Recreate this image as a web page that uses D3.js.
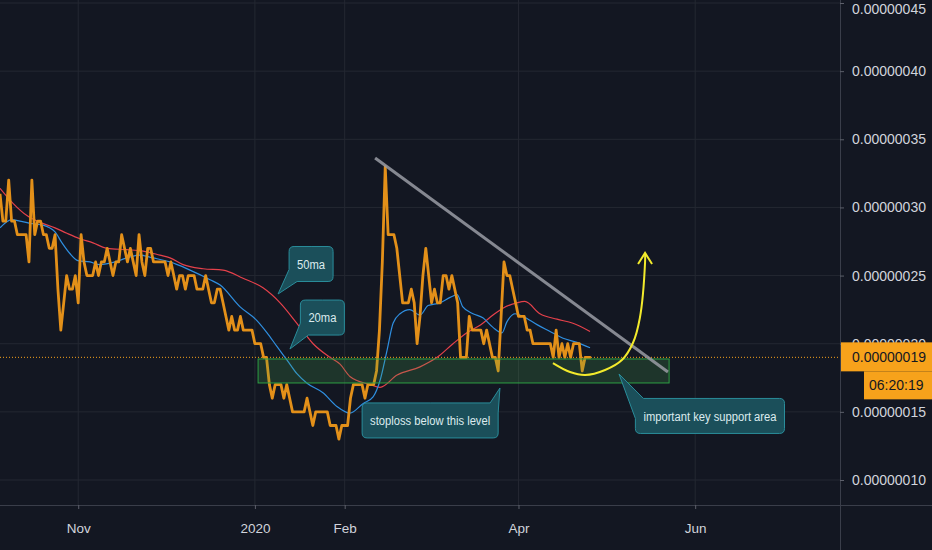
<!DOCTYPE html>
<html>
<head>
<meta charset="utf-8">
<script src="https://cdn.jsdelivr.net/npm/d3@7.9.0/dist/d3.min.js"></script>
<style>
  body { margin: 0; background: #131722; overflow: hidden; }
  svg { display: block; font-family: "Liberation Sans", Arial, sans-serif; }
</style>
</head>
<body>
<svg id="chart" width="932" height="550"></svg>
<script>
// daily closes in satoshi (1e-8), starting 2019-10-05
const startDate = new Date(Date.UTC(2019, 9, 5));
const closes = [
  31, 29, 29, 32, 29, 29, 28, 28, 28, 28,
  26, 32, 28, 29, 29, 28, 28, 27, 27, 28,
  24, 21, 23, 25, 24, 24, 25, 23, 28, 26,
  25, 25, 25, 26, 25, 26, 26, 27, 26, 25,
  26, 26, 28, 27, 26, 27, 26, 25, 28, 26,
  25, 27, 27, 26, 26, 26, 26, 26, 25, 26,
  25, 24, 25, 25, 24, 25, 25, 25, 24, 24,
  24, 25, 24, 23, 23, 24, 24, 23, 22, 21,
  22, 21, 21, 22, 21, 21, 21, 21, 20, 20,
  20, 19, 19, 17, 16, 17, 17, 17, 16, 17,
  16, 15, 15, 15, 15, 15, 16, 15, 14, 15,
  15, 15, 15, 15, 14, 14, 14, 13, 14, 14,
  14, 16, 17, 17, 17, 17, 16, 17, 17, 17,
  18, 21, 26, 33, 28, 28, 28, 27, 25, 23,
  23, 23, 24, 23, 20, 22, 25, 27, 25, 23,
  24, 23, 23, 25, 25, 24, 25, 24, 23, 19,
  19, 19, 22, 21, 21, 21, 21, 20, 21, 20,
  19, 19, 18, 22, 26, 25, 25, 24, 23, 22,
  22, 22, 21, 21, 20, 20, 20, 20, 20, 20,
  20, 19, 21, 19, 20, 19, 20, 19, 20, 20,
  20, 18, 19, 19, 19
];

// moving averages: [day offset, satoshi]
const ma20 = [
  [0, 28.5], [4.1, 29.1], [6.9, 29.0], [11.4, 28.8], [14.8, 28.7], [19.0, 28.2],
  [21.4, 27.4], [24.2, 26.6], [26.9, 26.1], [31.1, 26.0], [34.5, 25.8], [39.7, 26.0],
  [43.8, 26.3], [48.3, 26.5], [52.8, 26.3], [58.7, 26.0], [65.6, 25.4], [72.5, 24.7],
  [76.0, 24.3], [82.9, 22.7], [88.7, 21.7], [92.2, 20.8], [95.6, 19.8], [99.1, 18.8],
  [102.5, 17.8], [106.0, 17.1], [111.5, 16.4], [116.3, 15.4], [120.8, 14.9], [125.3, 15.6],
  [128.8, 16.1], [131.2, 17.3], [133.6, 19.5], [135.7, 21.5], [138.1, 22.2], [141.5, 22.5],
  [145.0, 22.1], [147.8, 22.8], [151.9, 23.0], [155.4, 23.4], [157.8, 23.6], [159.8, 22.7],
  [163.3, 22.2], [166.7, 21.9], [170.2, 21.2], [173.3, 20.8], [175.0, 21.6], [177.8, 22.2],
  [180.6, 22.0], [185.4, 21.4], [189.9, 20.9], [194.4, 20.4], [199.2, 20.1], [203.7, 19.7]
];
const ma50 = [
  [0, 31.4], [4.5, 30.3], [9.3, 29.4], [13.8, 28.9], [19.0, 28.5], [23.1, 28.1],
  [27.6, 27.7], [32.1, 27.4], [36.9, 27.0], [43.8, 26.9], [49.4, 26.8], [55.2, 26.5],
  [58.7, 26.3], [63.2, 25.8], [70.1, 25.5], [77.0, 25.4], [83.9, 24.8], [90.8, 24.1],
  [96.7, 23.0], [102.5, 21.5], [108.1, 20.0], [113.9, 19.0], [117.4, 18.5], [120.8, 17.6],
  [127.7, 17.0], [131.2, 16.8], [137.1, 17.7], [145.0, 18.3], [150.9, 19.0], [156.4, 20.0],
  [161.2, 20.8], [166.0, 21.4], [170.2, 22.1], [173.6, 22.6], [178.5, 23.0], [181.2, 23.1],
  [186.4, 22.2], [192.3, 21.8], [197.8, 21.5], [203.7, 20.9]
];

const priceTicks = [10, 15, 20, 25, 30, 35, 40, 45];
const timeTicks = ["2019-11-01", "2020-01-01", "2020-02-01", "2020-04-01", "2020-06-01"];
const timeLabels = ["Nov", "2020", "Feb", "Apr", "Jun"];
const lastPrice = 19;
const countdown = "06:20:19";

// drawings, in [day offset, satoshi]
const trendLine = [[129.5, 33.63], [230.6, 17.92]];
const supportDays = [89.1, 231];
const supportRange = [17.12, 18.88];
const arcPoints = [
  [190.9, 18.58], [196.8, 17.92], [202.0, 17.70], [208.9, 18.07], [214.7, 18.80],
  [218.5, 20.05], [220.9, 21.89], [222.7, 25.99], [222.7, 26.66]
];
const calloutTexts = ["50ma", "20ma", "stoploss below this level", "important key support area"];
const calloutCenters = [[107.4, 25.85], [111.3, 21.92], [148.5, 14.37], [245.1, 14.70]];
const calloutTips = [[96.0, 23.65], [100.1, 19.61], [172.6, 16.75], [213.7, 17.78]];
const calloutCorners = ["bl", "bl", "tr", "tl"];

const W = 932, H = 550;
const plotW = 840, plotH = 505;
const svg = d3.select("#chart");

const day = d => new Date(startDate.getTime() + d * 864e5);

const x = d3.scaleUtc()
  .domain([startDate, day(290)])
  .range([0, plotW]);
const y = d3.scaleLinear()
  .domain([10, 45])
  .range([480, 3]);

svg.append("rect").attr("width", W).attr("height", H).attr("fill", "#131722");

// grid
const grid = svg.append("g");
grid.selectAll(".hg").data(priceTicks).enter().append("line")
  .attr("x1", 0).attr("x2", plotW)
  .attr("y1", d => y(d)).attr("y2", d => y(d))
  .attr("stroke", "#242832");
grid.selectAll(".vg").data(timeTicks).enter().append("line")
  .attr("x1", d => x(new Date(d))).attr("x2", d => x(new Date(d)))
  .attr("y1", 0).attr("y2", plotH)
  .attr("stroke", "#242832");

const plot = svg.append("g");

// last price dotted line
plot.append("line")
  .attr("x1", 0).attr("x2", plotW)
  .attr("y1", y(lastPrice)).attr("y2", y(lastPrice))
  .attr("stroke", "#f7a21b")
  .attr("stroke-dasharray", "1,2");

const maLine = d3.line()
  .curve(d3.curveMonotoneX)
  .x(d => x(day(d[0])))
  .y(d => y(d[1]));

plot.append("path").datum(ma50)
  .attr("fill", "none").attr("stroke", "#e5414b").attr("stroke-width", 1.2)
  .attr("d", maLine);
plot.append("path").datum(ma20)
  .attr("fill", "none").attr("stroke", "#2f8fe0").attr("stroke-width", 1.2)
  .attr("d", maLine);

const closeLine = d3.line()
  .x((d, i) => x(day(i)))
  .y(d => y(d));

plot.append("path").datum(closes)
  .attr("fill", "none")
  .attr("stroke", "#e39019")
  .attr("stroke-width", 2.8)
  .attr("stroke-linejoin", "round")
  .attr("d", closeLine);

// support zone
plot.append("rect")
  .attr("x", x(day(supportDays[0])))
  .attr("width", x(day(supportDays[1])) - x(day(supportDays[0])))
  .attr("y", y(supportRange[1]))
  .attr("height", y(supportRange[0]) - y(supportRange[1]))
  .attr("fill", "#4caf50").attr("fill-opacity", 0.2)
  .attr("stroke", "#2ea043").attr("stroke-width", 1);

// trend line
plot.append("line")
  .attr("x1", x(day(trendLine[0][0]))).attr("y1", y(trendLine[0][1]))
  .attr("x2", x(day(trendLine[1][0]))).attr("y2", y(trendLine[1][1]))
  .attr("stroke", "#9a9ca4").attr("stroke-opacity", 0.85)
  .attr("stroke-width", 3);

// yellow arc with arrow
const arcLine = d3.line()
  .curve(d3.curveCatmullRom)
  .x(d => x(day(d[0])))
  .y(d => y(d[1]));
plot.append("path").datum(arcPoints)
  .attr("fill", "none").attr("stroke", "#f2ea2c").attr("stroke-width", 2)
  .attr("d", arcLine);
const tip = arcPoints[arcPoints.length - 1];
const tx = x(day(tip[0])), ty = y(tip[1]);
plot.append("path")
  .attr("d", `M${tx - 7},${ty + 11}L${tx},${ty}L${tx + 7},${ty + 11}`)
  .attr("fill", "none").attr("stroke", "#f2ea2c").attr("stroke-width", 2);

// callouts
function calloutPath(x0, y0, x1, y1, tp, corner) {
  const r = 5, a = 8, b = corner === "tl" ? 20 : (corner === "tr" ? 10 : 12);
  const p = d3.path();
  p.moveTo((x0 + x1) / 2, y0);
  if (corner === "tr") { p.lineTo(x1 - a, y0); p.lineTo(tp[0], tp[1]); p.lineTo(x1, y0 + b); }
  else { p.lineTo(x1 - r, y0); p.quadraticCurveTo(x1, y0, x1, y0 + r); }
  if (corner === "br") { p.lineTo(x1, y1 - b); p.lineTo(tp[0], tp[1]); p.lineTo(x1 - a, y1); }
  else { p.lineTo(x1, y1 - r); p.quadraticCurveTo(x1, y1, x1 - r, y1); }
  if (corner === "bl") { p.lineTo(x0 + a, y1); p.lineTo(tp[0], tp[1]); p.lineTo(x0, y1 - b); }
  else { p.lineTo(x0 + r, y1); p.quadraticCurveTo(x0, y1, x0, y1 - r); }
  if (corner === "tl") { p.lineTo(x0, y0 + b); p.lineTo(tp[0], tp[1]); p.lineTo(x0 + a, y0); }
  else { p.lineTo(x0, y0 + r); p.quadraticCurveTo(x0, y0, x0 + r, y0); }
  p.closePath();
  return p.toString();
}

const squeeze = 0.83;
calloutTexts.forEach((t, i) => {
  const cx = x(day(calloutCenters[i][0])), cy = y(calloutCenters[i][1]);
  const tp = [x(day(calloutTips[i][0])), y(calloutTips[i][1])];
  const g = plot.append("g");
  const box = g.append("path");
  const label = g.append("text")
    .attr("transform", `translate(${cx},${cy}) scale(${squeeze},1)`)
    .attr("text-anchor", "middle")
    .attr("dy", "0.35em")
    .attr("fill", "#dcebee")
    .style("font-size", "13.5px")
    .text(t);
  const w = label.node().getComputedTextLength() * squeeze + 16;
  const h = 35;
  box.attr("d", calloutPath(cx - w / 2, cy - h / 2, cx + w / 2, cy + h / 2, tp, calloutCorners[i]))
    .attr("fill", "#1b4f5a")
    .attr("stroke", "#2a8d9b")
    .attr("stroke-width", 1);
});

// axes
svg.append("line")
  .attr("x1", 0).attr("x2", W).attr("y1", plotH + 0.5).attr("y2", plotH + 0.5)
  .attr("stroke", "#3a3e4a");
svg.append("line")
  .attr("x1", plotW + 0.5).attr("x2", plotW + 0.5).attr("y1", 0).attr("y2", H)
  .attr("stroke", "#3a3e4a");

const yAxis = svg.append("g")
  .attr("transform", `translate(${plotW},0)`)
  .call(d3.axisRight(y)
    .tickValues(priceTicks)
    .tickSize(4)
    .tickPadding(8)
    .tickFormat(d => (d / 1e8).toFixed(8)));
yAxis.select(".domain").remove();
yAxis.selectAll("line").attr("stroke", "#5d606b");
yAxis.selectAll("text").attr("fill", "#d1d4dc").style("font-size", "14px")
  .style("font-family", '"Liberation Sans", Arial, sans-serif');
// keep the topmost label inside the picture
yAxis.selectAll(".tick").filter(d => d === 45).select("text").attr("dy", "0.75em");

const xAxis = svg.append("g")
  .attr("transform", `translate(0,${plotH})`)
  .call(d3.axisBottom(x)
    .tickValues(timeTicks.map(d => new Date(d)))
    .tickSize(4)
    .tickPadding(14)
    .tickFormat((d, i) => timeLabels[i]));
xAxis.select(".domain").remove();
xAxis.selectAll("line").attr("stroke", "#5d606b");
xAxis.selectAll("text").attr("fill", "#d1d4dc").style("font-size", "13.5px")
  .style("font-family", '"Liberation Sans", Arial, sans-serif');

// last price + countdown labels
const py = y(lastPrice);
const tag = svg.append("g");
tag.append("rect")
  .attr("x", plotW + 1).attr("y", py - 15).attr("width", W - plotW).attr("height", 29)
  .attr("fill", "#f7a21b");
tag.append("text")
  .attr("x", plotW + 12).attr("y", py).attr("dy", "0.35em")
  .attr("fill", "#131722").style("font-size", "14px")
  .text((lastPrice / 1e8).toFixed(8));
tag.append("rect")
  .attr("x", 864).attr("y", py + 14).attr("width", W - 864).attr("height", 28)
  .attr("fill", "#f7a21b");
tag.append("text")
  .attr("x", 869).attr("y", py + 28).attr("dy", "0.35em")
  .attr("fill", "#131722").style("font-size", "14px")
  .text(countdown);
</script>
</body>
</html>
